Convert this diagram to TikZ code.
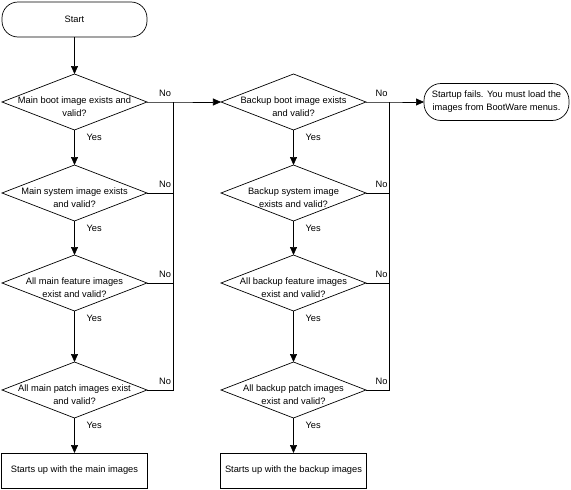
\documentclass[tikz,border=0pt]{standalone}
\usepackage{fontspec}
\setmainfont{Liberation Sans}
\usepackage{tikz}
\usetikzlibrary{positioning, shapes.geometric, arrows.meta}

% question text, kept out of the diamond size
\newcommand{\qtext}[1]{\makebox[0pt]{\smash{\raisebox{-1.5pt}{\begin{tabular}[t]{@{}c@{}}#1\end{tabular}}}}}

\tikzset{
  term/.style={draw, rounded corners=16pt, minimum width=145pt, minimum height=35pt},
  check/.style={draw, diamond, minimum width=145pt, minimum height=56pt, inner sep=0pt},
  result/.style={draw, rectangle, minimum width=146pt, minimum height=35pt},
  arr/.style={-{Triangle[length=8pt,width=7pt]}},
  no/.style={anchor=south east, inner xsep=2pt, inner ysep=5pt},
  yes/.style={pos=0, anchor=north west, inner xsep=12pt, inner ysep=4.5pt},
}

\begin{document}
\begin{tikzpicture}[x=1pt, y=1pt, line width=0.7pt, outer sep=0pt, font=\fontsize{9.3}{13}\selectfont]
  \useasboundingbox (0,0) rectangle (571,-490);

  % Define nodes
  \node[term] (start) at (74.5,-19.5) {Start};
  \node[check, below=37pt of start] (m1) {\qtext{Main boot image exists and\\valid?}};
  \node[check, below=35pt of m1] (m2) {\qtext{Main system image exists\\and valid?}};
  \node[check, below=34pt of m2] (m3) {\qtext{All main feature images\\exist and valid?}};
  \node[check, below=51pt of m3] (m4) {\qtext{All main patch images exist\\and valid?}};
  \node[result, below=35pt of m4] (mainok) {Starts up with the main images};

  \node[check, right=74pt of m1] (b1) {\qtext{Backup boot image exists\\and valid?}};
  \node[check, below=35pt of b1] (b2) {\qtext{Backup system image\\exists and valid?}};
  \node[check, below=34pt of b2] (b3) {\qtext{All backup feature images\\exist and valid?}};
  \node[check, below=51pt of b3] (b4) {\qtext{All backup patch images\\exist and valid?}};
  \node[result, below=35pt of b4] (backok) {Starts up with the backup images};

  \node[term, align=center, minimum height=37pt, rounded corners=17pt, right=58pt of b1] (fail) {Startup fails. You must load the\\images from BootWare menus.};

  % Junctions
  \coordinate[right=26pt of m1.east] (jm);
  \coordinate[right=23.5pt of b1.east] (jb);

  % Yes edges
  \draw[arr] (start) -- (m1);
  \draw[arr] (m1) -- node[yes] {Yes} (m2);
  \draw[arr] (m2) -- node[yes] {Yes} (m3);
  \draw[arr] (m3) -- node[yes] {Yes} (m4);
  \draw[arr] (m4) -- node[yes] {Yes} (mainok);
  \draw[arr] (b1) -- node[yes] {Yes} (b2);
  \draw[arr] (b2) -- node[yes] {Yes} (b3);
  \draw[arr] (b3) -- node[yes] {Yes} (b4);
  \draw[arr] (b4) -- node[yes] {Yes} (backok);

  % No edges
  \draw[arr] (m1) -- (jm) node[no] {No} -- (b1);
  \draw (m2) -- (m2 -| jm) node[no] {No};
  \draw (m3) -- (m3 -| jm) node[no] {No};
  \draw (m4) -- (m4 -| jm) node[no] {No} -- (jm);
  \draw[arr] (b1) -- (jb) node[no] {No} -- (fail);
  \draw (b2) -- (b2 -| jb) node[no] {No};
  \draw (b3) -- (b3 -| jb) node[no] {No};
  \draw (b4) -- (b4 -| jb) node[no] {No} -- (jb);

\end{tikzpicture}
\end{document}
